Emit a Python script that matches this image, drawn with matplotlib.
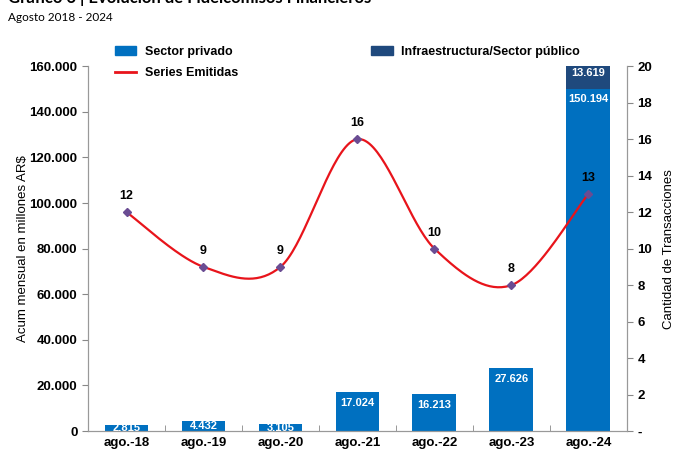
import matplotlib.pyplot as plt
import numpy as np
from matplotlib.ticker import FuncFormatter
from matplotlib.patches import Patch
from matplotlib.lines import Line2D

categorias = ["ago.-18", "ago.-19", "ago.-20", "ago.-21", "ago.-22", "ago.-23", "ago.-24"]
sector_privado = [2815, 4432, 3105, 17024, 16213, 27626, 150194]
sector_publico = [0, 0, 0, 0, 0, 0, 13619]
series_emitidas = [12, 9, 9, 16, 10, 8, 13]

azul = "#0070C0"
azul_osc = "#1F497D"
rojo = "#E8141B"

plt.rcParams['font.family'] = ['Liberation Sans', 'DejaVu Sans']

fig = plt.figure(figsize=(6.77, 4.5), dpi=100)
ax = fig.add_axes([0.130, 0.042, 0.796, 0.811])
ax2 = ax.twinx()

x = np.arange(len(categorias))
w = 0.57
ax.bar(x, sector_privado, w, color=azul, zorder=2)
ax.bar(x, sector_publico, w, bottom=sector_privado, color=azul_osc, zorder=2)

ax.set_xlim(-0.5, len(categorias) - 0.5)
ax.set_ylim(0, 160000)
ax.set_yticks(np.arange(0, 160001, 20000))
ax.yaxis.set_major_formatter(FuncFormatter(lambda v, p: f"{int(v):,}".replace(",", ".")))
ax.set_xticks(x)
ax.set_xticklabels(categorias, fontweight='bold', fontsize=9.5)
ax.set_xticks(np.arange(-0.5, len(categorias)), minor=True)
ax.tick_params(axis='x', which='major', length=0, pad=4)
ax.tick_params(axis='x', which='minor', length=4, color='#888888', direction='in')
ax.tick_params(axis='y', length=4, color='#888888', labelsize=9.5)
for lab in ax.get_yticklabels():
    lab.set_fontweight('bold')
ax.set_ylabel("Acum mensual en millones AR$", fontsize=9.5, labelpad=0)

# etiquetas de barras
for i, v in enumerate(sector_privado):
    txt = f"{v:,}".replace(",", ".")
    if v < 8000:
        ax.text(i, v / 2, txt, ha='center', va='center', color='white', fontsize=8, fontweight='bold', zorder=3)
    else:
        ax.text(i, v - 2500, txt, ha='center', va='top', color='white', fontsize=8, fontweight='bold', zorder=3)
for i, v in enumerate(sector_publico):
    if v > 0:
        ax.text(i, sector_privado[i] + v / 2, f"{v:,}".replace(",", "."), ha='center', va='center',
                color='white', fontsize=8, fontweight='bold', zorder=3)

# linea suavizada (tipo Excel)
y = np.array(series_emitidas, dtype=float)
px = np.concatenate([[x[0]], x, [x[-1]]]).astype(float)
py = np.concatenate([[y[0]], y, [y[-1]]])
cx, cy = [], []
t = np.linspace(0, 1, 40)
for i in range(1, len(px) - 2):
    p0 = np.array([px[i], py[i]])
    p3 = np.array([px[i + 1], py[i + 1]])
    c1 = p0 + (p3 - np.array([px[i - 1], py[i - 1]])) / 6
    c2 = p3 - (np.array([px[i + 2], py[i + 2]]) - p0) / 6
    b = ((1 - t) ** 3)[:, None] * p0 + (3 * (1 - t) ** 2 * t)[:, None] * c1 \
        + (3 * (1 - t) * t ** 2)[:, None] * c2 + (t ** 3)[:, None] * p3
    cx.extend(b[:, 0])
    cy.extend(b[:, 1])
ax2.plot(cx, cy, color=rojo, lw=1.6, zorder=4)
ax2.plot(x, y, ls='none', marker='D', ms=4, color='#6A4C93', zorder=5)
for i, v in enumerate(series_emitidas):
    ax2.annotate(str(v), (i, v), xytext=(0, 7), textcoords='offset points', ha='center', va='bottom',
                 fontsize=9, fontweight='bold')

ax2.set_ylim(0, 20)
ax2.set_yticks(np.arange(0, 21, 2))
ax2.set_yticklabels(["-"] + [str(v) for v in range(2, 21, 2)], fontweight='bold', fontsize=9.5)
ax2.tick_params(axis='y', length=4, color='#888888')
ax2.set_ylabel("Cantidad de Transacciones", fontsize=9.5, labelpad=8)

for a in (ax, ax2):
    a.spines['top'].set_visible(False)
    for s in ('left', 'right', 'bottom'):
        a.spines[s].set_color('#999999')

h1 = [Patch(color=azul), Line2D([], [], color=rojo, lw=2)]
leg1 = fig.legend(h1, ["Sector privado", "Series Emitidas"], loc='upper left',
                  bbox_to_anchor=(0.16, 0.912), frameon=False, prop={'weight': 'bold', 'size': 9},
                  handlelength=1.75, handleheight=0.8, handletextpad=0.65, labelspacing=0.75, borderpad=0)
leg2 = fig.legend([Patch(color=azul_osc)], ["Infraestructura/Sector público"], loc='upper left',
                  bbox_to_anchor=(0.539, 0.912), frameon=False, prop={'weight': 'bold', 'size': 9},
                  handlelength=1.75, handleheight=0.8, handletextpad=0.65, borderpad=0)

fig.text(0.012, 1.005, "Gráfico 6 | Evolución de Fideicomisos Financieros", fontsize=12,
         fontweight='bold', family=['Lato', 'DejaVu Sans'], va='center')
fig.text(0.012, 0.962, "Agosto 2018 - 2024", fontsize=8.5, family=['Lato', 'DejaVu Sans'], va='center')

fig.savefig("out.png", dpi=100)
